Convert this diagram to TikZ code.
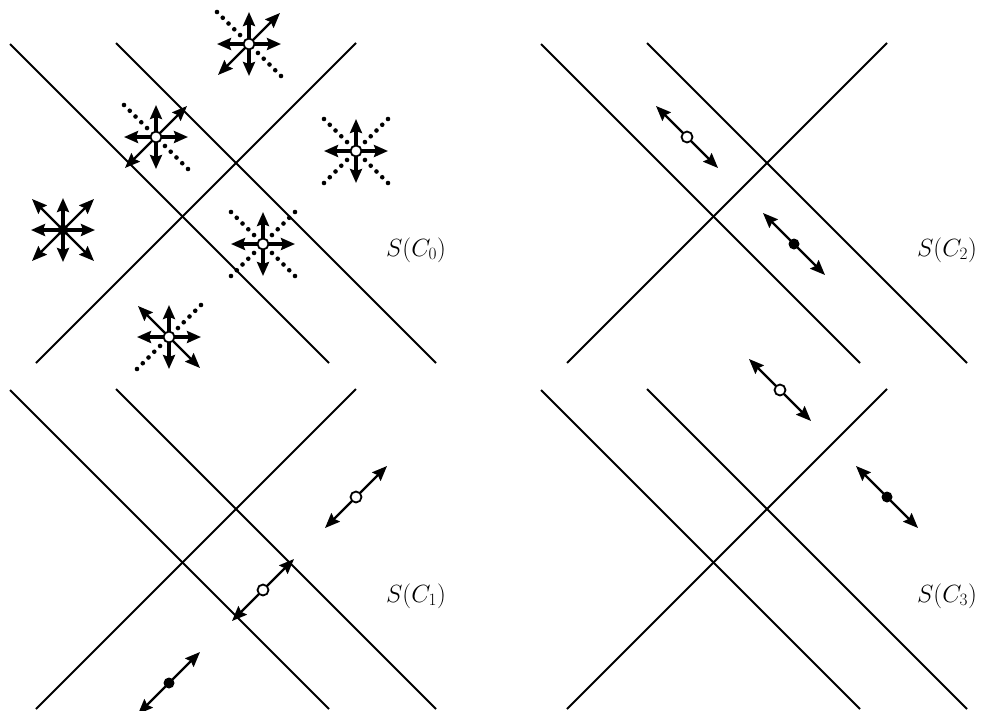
\documentclass[tikz,border=0pt]{standalone}
\usetikzlibrary{arrows.meta}
\newcommand\panellines[1]{%
  \coordinate (#1a) at (10,44);  \coordinate (#1b) at (329,363);
  \coordinate (#1c) at (116,43); \coordinate (#1d) at (436,363);
  \coordinate (#1e) at (36,363); \coordinate (#1f) at (356,43);
  \draw[wall] (#1a) -- (#1b);
  \draw[wall] (#1c) -- (#1d);
  \draw[wall] (#1e) -- (#1f);}
\newcommand\hvarrows[1]{%
  \foreach \dx/\dy in {32/0,-32/0,0/32,0/-32}{\draw[hvarrow] (#1) -- ++(\dx,\dy);}}
\newcommand\dgarr[3]{\draw[dgarrow] (#1) -- ++(#2,#3);}
\newcommand\dgdots[3]{%
  \foreach \t in {0.28,0.46,0.64,0.82,1}{\fill (#1) ++(\t*#2,\t*#3) circle (2.3);}}
\begin{document}
\begin{tikzpicture}[x=1pt,y=-1pt,
  wall/.style={line width=2pt},
  hvarrow/.style={line width=3.2pt,-{Stealth[length=14pt,width=12pt,inset=2pt]}},
  dgarrow/.style={line width=2.2pt,-{Stealth[length=15pt,width=12pt,inset=2pt]}},
  opendot/.style={circle,draw,fill=white,line width=1.8pt,minimum size=11pt,inner sep=0pt},
  fulldot/.style={circle,fill=black,minimum size=11pt,inner sep=0pt},
  lbl/.style={font=\fontsize{26}{30}\selectfont,anchor=base}]
\useasboundingbox (0,0) rectangle (984,710);
\clip (0,0) rectangle (984,710);

% ---------- panel S(C_0)
\begin{scope}
  \panellines{P0}
  \node[lbl] (L0) at (416,256) {$S(C_0)$};
  % star 1
  \coordinate (s1) at (249,44);
  \dgdots{s1}{-32}{-32}\dgdots{s1}{32}{32}
  \hvarrows{s1}\dgarr{s1}{31}{-31}\dgarr{s1}{-31}{31}
  \node[opendot] (d1) at (s1) {};
  % star 2
  \coordinate (s2) at (156,137);
  \dgdots{s2}{-32}{-32}\dgdots{s2}{32}{32}
  \hvarrows{s2}\dgarr{s2}{31}{-31}\dgarr{s2}{-31}{31}
  \node[opendot] (d2) at (s2) {};
  % star 3
  \coordinate (s3) at (356,151);
  \dgdots{s3}{-32}{-32}\dgdots{s3}{32}{32}\dgdots{s3}{32}{-32}\dgdots{s3}{-32}{32}
  \hvarrows{s3}
  \node[opendot] (d3) at (s3) {};
  % star 4 (source)
  \coordinate (s4) at (63,230);
  \hvarrows{s4}
  \dgarr{s4}{31}{-31}\dgarr{s4}{-31}{31}\dgarr{s4}{31}{31}\dgarr{s4}{-31}{-31}
  \node[fulldot] (d4) at (s4) {};
  % star 5
  \coordinate (s5) at (263,244);
  \dgdots{s5}{-32}{-32}\dgdots{s5}{32}{32}\dgdots{s5}{32}{-32}\dgdots{s5}{-32}{32}
  \hvarrows{s5}
  \node[opendot] (d5) at (s5) {};
  % star 6
  \coordinate (s6) at (169,337);
  \dgdots{s6}{32}{-32}\dgdots{s6}{-32}{32}
  \hvarrows{s6}\dgarr{s6}{31}{31}\dgarr{s6}{-31}{-31}
  \node[opendot] (d6) at (s6) {};
\end{scope}

% ---------- panel S(C_1)
\begin{scope}[shift={(0,346)}]
  \panellines{P1}
  \node[lbl] (L1) at (416,256) {$S(C_1)$};
  \coordinate (t1) at (356,151);
  \dgarr{t1}{31}{-31}\dgarr{t1}{-31}{31}
  \node[opendot] (e1) at (t1) {};
  \coordinate (t2) at (263,244);
  \dgarr{t2}{31}{-31}\dgarr{t2}{-31}{31}
  \node[opendot] (e2) at (t2) {};
  \coordinate (t3) at (169,337);
  \dgarr{t3}{31}{-31}\dgarr{t3}{-31}{31}
  \node[fulldot] (e3) at (t3) {};
\end{scope}

% ---------- panel S(C_2)
\begin{scope}[shift={(531,0)}]
  \panellines{P2}
  \node[lbl] (L2) at (416,256) {$S(C_2)$};
  \coordinate (u1) at (156,137);
  \dgarr{u1}{31}{31}\dgarr{u1}{-31}{-31}
  \node[opendot] (f1) at (u1) {};
  \coordinate (u2) at (263,244);
  \dgarr{u2}{31}{31}\dgarr{u2}{-31}{-31}
  \node[fulldot] (f2) at (u2) {};
\end{scope}

% ---------- panel S(C_3)
\begin{scope}[shift={(531,346)}]
  \panellines{P3}
  \node[lbl] (L3) at (416,256) {$S(C_3)$};
  \coordinate (w1) at (249,44);
  \dgarr{w1}{31}{31}\dgarr{w1}{-31}{-31}
  \node[opendot] (g1) at (w1) {};
  \coordinate (w2) at (356,151);
  \dgarr{w2}{31}{31}\dgarr{w2}{-31}{-31}
  \node[fulldot] (g2) at (w2) {};
\end{scope}
\end{tikzpicture}
\end{document}
